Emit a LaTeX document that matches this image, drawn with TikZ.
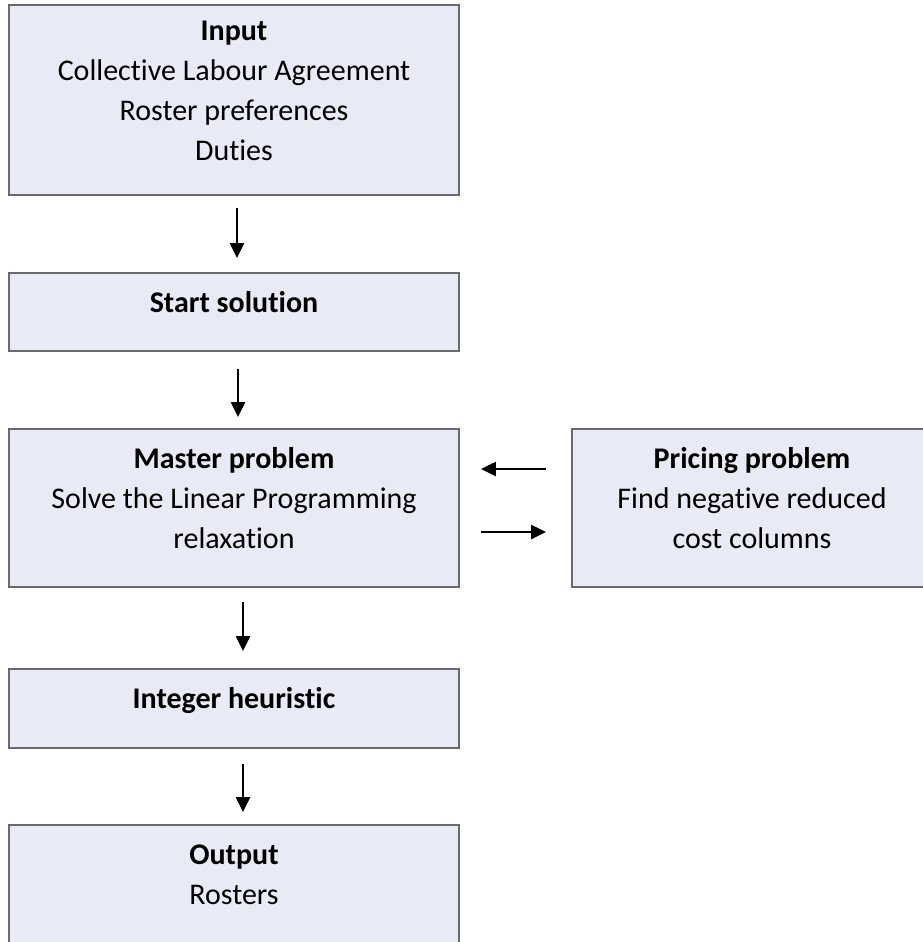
\documentclass[tikz,border=0pt]{standalone}
\usepackage{fontspec}
\setmainfont{Carlito}[Ligatures=NoCommon]
\usetikzlibrary{arrows.meta}
\definecolor{boxfill}{RGB}{232,234,245}
\definecolor{boxline}{RGB}{105,105,110}
\newcommand{\tp}{\rule{0pt}{24pt}}
\newcommand{\bt}{\rule[-24pt]{0pt}{24pt}}
\begin{document}
\begin{tikzpicture}[x=1pt,y=1pt,
  box/.style={draw=boxline, line width=1.8pt, fill=boxfill, rectangle, inner sep=0pt,
    align=center, font=\fontsize{30pt}{40pt}\selectfont},
  mainbox/.style={box, minimum width=450pt},
  arr/.style={line width=2.2pt, -{Triangle[length=15pt,width=14pt]}}]
\useasboundingbox (0,0) rectangle (923,-942);
\fill[white] (0,0) rectangle (923,-942);
\node[mainbox, minimum height=190pt] (input) at (234,-100)
  {\tp\textbf{Input}\\Collective Labour Agreement\\Roster preferences\\Duties\bt};
\node[mainbox, minimum height=78pt] (start) at (234,-312)
  {\tp\textbf{Start solution}\bt};
\node[mainbox, minimum height=158pt] (master) at (234,-508)
  {\tp\textbf{Master problem}\\Solve the Linear Programming\\relaxation\bt};
\node[box, minimum width=360pt, minimum height=158pt] (pricing) at (752,-508)
  {\tp\textbf{Pricing problem}\\Find negative reduced\\cost columns\bt};
\node[mainbox, minimum height=79pt] (integer) at (234,-708.5)
  {\tp\textbf{Integer heuristic}\bt};
\node[mainbox, minimum height=119pt] (output) at (234,-884.5)
  {\tp\textbf{Output}\\Rosters\bt};
\draw[arr] ([xshift=3pt,yshift=-12pt]input.south) -- ([xshift=3pt,yshift=14pt]start.north);
\draw[arr] ([xshift=4pt,yshift=-17pt]start.south) -- ([xshift=4pt,yshift=11pt]master.north);
\draw[arr] ([xshift=9pt,yshift=-14pt]master.south) -- ([xshift=9pt,yshift=17pt]integer.north);
\draw[arr] ([xshift=9pt,yshift=-15pt]integer.south) -- ([xshift=9pt,yshift=12pt]output.north);
\draw[arr] ([xshift=-25pt,yshift=39pt]pricing.west) -- ([xshift=21pt,yshift=39pt]master.east);
\draw[arr] ([xshift=21pt,yshift=-24pt]master.east) -- ([xshift=-25pt,yshift=-24pt]pricing.west);
\end{tikzpicture}
\end{document}
